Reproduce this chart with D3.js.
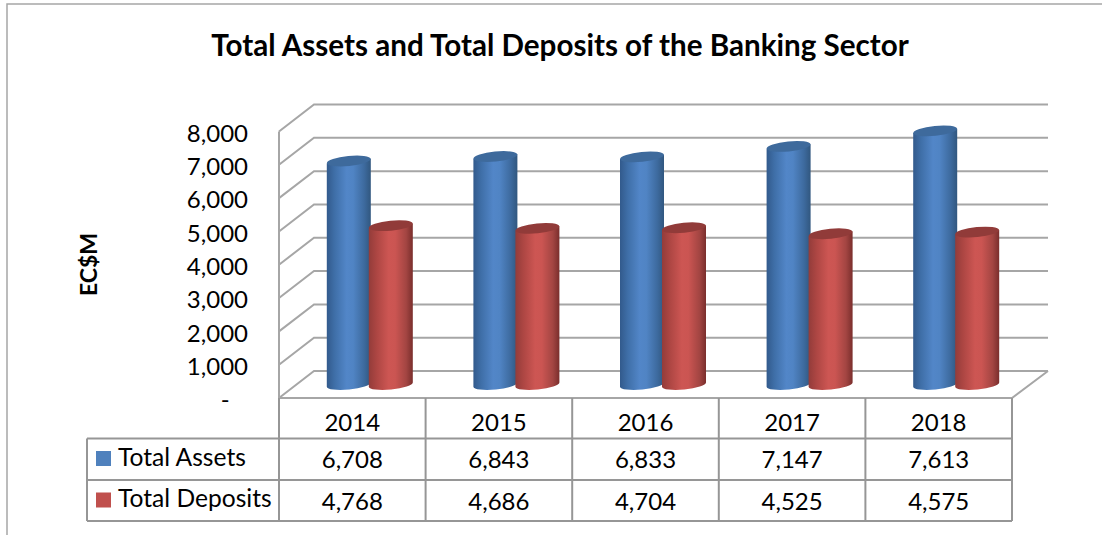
<!DOCTYPE html>
<html>
<head>
<meta charset="utf-8" />
<style>
  html, body { margin: 0; padding: 0; background: #fff; overflow: hidden; }
  text { font-family: Lato, "Open Sans", sans-serif; fill: #000; }
</style>
</head>
<body>
<div id="chart"></div>
<script src="https://d3js.org/d3.v7.min.js"></script>
<script>
var years = ['2014', '2015', '2016', '2017', '2018'];
var seriesNames = ['Total Assets', 'Total Deposits'];
var totalAssets = [6708, 6843, 6833, 7147, 7613];
var totalDeposits = [4768, 4686, 4704, 4525, 4575];
var yTicks = [0, 1000, 2000, 3000, 4000, 5000, 6000, 7000, 8000];

var seriesValues = [totalAssets, totalDeposits];
var width = 1102, height = 535;
var gridColor = '#a6a6a6', tableColor = '#969696';

// front plane of the 3d box, the back wall is shifted by depthX / depthY
var frontLeft = 279, frontRight = 1012, depthX = 35, depthY = 27;
var rows = [398, 438.5, 480, 521];
var tableLeft = 87;

var x = d3.scaleBand().domain(years).range([frontLeft, frontRight]);
var y = d3.scaleLinear().domain([0, 8000]).range([398, 131.5]);
var fmt = d3.format(',');

var svg = d3.select('#chart').append('svg')
  .attr('width', width)
  .attr('height', height)
  .style('display', 'block');

var defs = svg.append('defs');
var gradients = [
  { id: 'blueBody', stops: ['#325a8c', '#3f6fa8', '#5286c8', '#5084c4', '#3d6a9e', '#31577f'] },
  { id: 'redBody', stops: ['#933c3a', '#ad4643', '#cd5653', '#cb5552', '#a34542', '#7a2e2c'] }
];
gradients.forEach(function(g) {
  var lg = defs.append('linearGradient').attr('id', g.id);
  [0, 0.18, 0.45, 0.6, 0.85, 1].forEach(function(o, i) {
    lg.append('stop').attr('offset', o).attr('stop-color', g.stops[i]);
  });
});
var topColor = ['#3e6a9c', '#913b39'];

// chart frame, open on the right and cut by the page edge
svg.append('path')
  .attr('d', 'M7,535V4H1102')
  .attr('fill', 'none')
  .attr('stroke', '#a6a6a6')
  .attr('stroke-width', 1.5);

svg.append('text')
  .attr('x', 560).attr('y', 56)
  .attr('text-anchor', 'middle')
  .attr('font-size', 29.6)
  .attr('font-weight', 700)
  .text('Total Assets and Total Deposits of the Banking Sector');

// gridlines on the back wall and side wall
var grid = svg.append('g').attr('fill', 'none').attr('stroke', gridColor).attr('stroke-width', 2);
yTicks.forEach(function(t) {
  grid.append('path')
    .attr('d', 'M' + frontLeft + ',' + y(t) + 'L' + (frontLeft + depthX) + ',' + (y(t) - depthY) + 'H' + (frontRight + depthX + 1));
});
grid.append('path')
  .attr('d', 'M' + frontLeft + ',' + y(0) + 'V' + y(8000) + 'M' + frontLeft + ',' + y(0) + 'H' + frontRight + 'L' + (frontRight + depthX + 1) + ',' + (y(0) - depthY));

// y axis labels, the zero dash sits in from the right edge like an accounting format
var yAxis = d3.axisLeft(y)
  .tickValues(yTicks)
  .tickSize(0)
  .tickPadding(31)
  .tickFormat(function(d) { return d === 0 ? '-\u00a0\u00a0\u00a0' : fmt(d); });
var yG = svg.append('g').attr('transform', 'translate(' + frontLeft + ',2)').call(yAxis);
yG.select('.domain').remove();
yG.selectAll('text').attr('font-size', 24).style('font-family', 'Lato').attr('fill', '#000');

svg.append('text')
  .attr('transform', 'translate(97,264.5) rotate(-90)')
  .attr('text-anchor', 'middle')
  .attr('font-size', 23)
  .attr('font-weight', 700)
  .text('EC$M');

// cylinders, sitting mid depth on the floor
var barW = 44, ry = 5, tilt = -5.7, baseOffset = depthY / 2;
function barX(i, s) {
  return x(years[i]) + x.bandwidth() / 2 + depthX / 2 + (s === 0 ? -21 : 21);
}
years.forEach(function(yr, i) {
  [0, 1].forEach(function(s) {
    var cx = barX(i, s);
    var base = y(0) - baseOffset;
    var top = y(seriesValues[s][i]) - baseOffset;
    var dy = barW / 2 * Math.sin(tilt * Math.PI / 180);
    var rot = 'rotate(' + tilt + ')';
    var g = svg.append('g').attr('class', 'bar').attr('transform', 'translate(' + cx + ',0)');
    // body with the lower arc and the upper edge
    g.append('path')
      .attr('d', 'M' + (-barW / 2) + ',' + (top - dy) +
        'L' + (-barW / 2) + ',' + (base - dy) +
        'A' + (barW / 2) + ',' + ry + ' ' + tilt + ' 0 0 ' + (barW / 2) + ',' + (base + dy) +
        'L' + (barW / 2) + ',' + (top + dy) + 'Z')
      .attr('fill', 'url(#' + (s === 0 ? 'blueBody' : 'redBody') + ')');
    g.append('ellipse')
      .attr('transform', 'translate(0,' + top + ') ' + rot)
      .attr('rx', barW / 2)
      .attr('ry', ry)
      .attr('fill', topColor[s]);
  });
});

// data table
var table = svg.append('g').attr('fill', 'none').attr('stroke', tableColor).attr('stroke-width', 2);
table.append('path').attr('d', 'M' + tableLeft + ',' + rows[1] + 'H' + frontRight + 'M' + tableLeft + ',' + rows[2] + 'H' + frontRight + 'M' + tableLeft + ',' + rows[3] + 'H' + frontRight + 'M' + tableLeft + ',' + rows[1] + 'V' + rows[3]);
x.domain().forEach(function(yr) {
  table.append('line').attr('x1', x(yr)).attr('x2', x(yr)).attr('y1', rows[0]).attr('y2', rows[3]);
});
table.append('line').attr('x1', frontRight).attr('x2', frontRight).attr('y1', rows[0]).attr('y2', rows[3]);

years.forEach(function(yr, i) {
  var cx = x(yr) + x.bandwidth() / 2;
  [yr, fmt(totalAssets[i]), fmt(totalDeposits[i])].forEach(function(t, r) {
    svg.append('text')
      .attr('x', cx)
      .attr('y', [431, 467.5, 509.5][r])
      .attr('text-anchor', 'middle')
      .attr('font-size', 24)
      .text(t);
  });
});

seriesNames.forEach(function(name, s) {
  var rowTop = rows[s + 1];
  svg.append('rect')
    .attr('x', 96).attr('y', rowTop + 12.5)
    .attr('width', 15).attr('height', 15)
    .attr('fill', s === 0 ? '#4f81bd' : '#c0504d');
  svg.append('text')
    .attr('x', 118).attr('y', rowTop + 27)
    .attr('font-size', 24.6)
    .text(name);
});
</script>
</body>
</html>
